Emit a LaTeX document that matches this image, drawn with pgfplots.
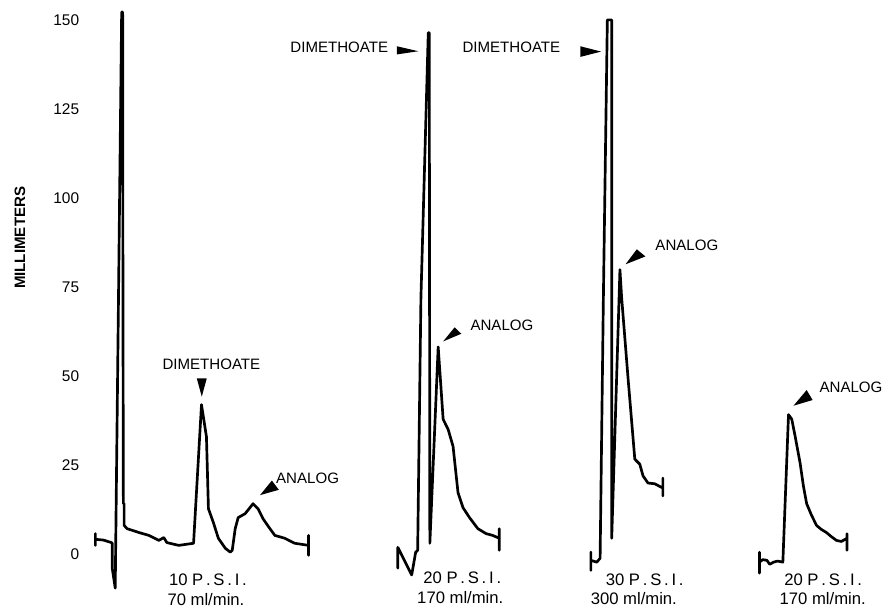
\documentclass[border=0pt]{standalone}
\usepackage{fontspec}
\setmainfont{Liberation Sans}
\usepackage{pgfplots}
\pgfplotsset{compat=1.18}

% Chromatogram traces: x is the chart-paper position, y is the pen deflection in millimeters.
\pgfplotsset{trace/.style={black, line width=1.35pt, line join=round, line cap=round, mark=none}}
\tikzset{cond/.style={font=\fontsize{8.4}{10}\selectfont}}
\begin{document}
\begin{tikzpicture}[font=\fontsize{7.6}{9}\selectfont]
\begin{axis}[
  scale only axis, width=444.5pt, height=306pt,
  xmin=0, xmax=889, ymin=-14.75, ymax=155.58,
  axis line style={draw=none},
  major tick length=0pt,
  xtick=\empty,
  ytick={0,25,50,75,100,125,150},
  /pgf/number format/assume math mode=true,
  yticklabel style={anchor=east, inner sep=0pt, xshift=40pt, font=\fontsize{7.8}{9}\selectfont},
  ylabel={MILLIMETERS},
  every axis y label/.style={at={(rel axis cs:0.0225,0.608)}, rotate=90, anchor=center,
    font=\fontsize{7.6}{9}\selectfont\bfseries},
  clip=false,
]
% keep the full drawing area as the picture's extent
\path (rel axis cs:0,0) rectangle (rel axis cs:1,1);

% 10 P.S.I., 70 ml/min
\addplot[trace] coordinates {
  (96,5.8) (96,2.5) (96,4.2) (104,4.0) (112,3.3) (113,3.1) (113,-3.9) (116,-9.5)
  (119.3,72) (122.5,152.2) (123.5,152.2) (123.8,72) (124.2,14.2) (125,14.2) (125,8.1)
  (128,7.2) (140,6.1) (150,5.3) (160,3.9) (165,4.7) (168,3.3) (180,2.5) (195,3.1)
  (203,42) (208,33) (210,12.8) (215,8.9) (220,4.5) (227,1.7) (232,0.6) (234,1.1)
  (237,7.2) (240,10.3) (247,11.4) (255,14.2) (260,12.8) (265,10.0) (272,7.2)
  (277,5.3) (287,4.5) (297,3.1) (311,2.5) (311,5.3) (311,-0.3)
};
% 20 P.S.I., 170 ml/min
\addplot[trace] coordinates {
  (401,-3.9) (401,1.95) (415,-5.8) (419,0.6) (421,1.1) (424.3,72) (431.7,146.4)
  (432.7,146.4) (433.3,3.1) (441.7,58.2) (446.7,37.9) (451.7,35.1) (456.7,30.3)
  (461.7,17.3) (466.7,13.1) (473.3,10.3) (481.7,7.2) (490,5.8) (496.7,5.3)
  (503.3,4.5) (503.3,7.2) (503.3,1.1)
};
% 30 P.S.I., 300 ml/min
\addplot[trace] coordinates {
  (595.7,0.6) (595.7,-4.5) (595.7,-1.7) (601.7,-2.2) (605,-1.1) (608.3,72)
  (612.3,150) (616.7,150) (616.7,4.5) (625,79.9) (626.7,72.1) (633.3,49)
  (640,26.7) (645,25.3) (648.3,22) (653.3,20) (660,19.8) (668.3,18.6)
  (668.3,21.4) (668.3,16.4)
};
% 20 P.S.I., 170 ml/min (analog only)
\addplot[trace] coordinates {
  (765.7,0.6) (765.7,-5.3) (765.7,-2.2) (769,-1.5) (773.3,-1.7) (776,-2.8)
  (780,-2.2) (784,-1.9) (789.3,-2.2) (795,39.2) (798.3,37.9) (801.7,33.1)
  (806.7,25.6) (810,19.2) (813.3,14.2) (818.3,10.9) (823.3,8.1) (828,7.0)
  (833.3,6.1) (838,5.0) (843.3,3.9) (848.3,3.6) (854,4.5) (854,5.8) (854,1.1)
};

% peak labels
\node at (axis cs:213,53.4) {DIMETHOATE};
\fill (axis cs:198.3,49.35) -- (axis cs:208.3,49.35) -- (axis cs:203.3,44.25) -- cycle;
\node at (axis cs:310,21.4) {ANALOG};
\fill (axis cs:274,20.7) -- (axis cs:281,18.1) -- (axis cs:262,16.6) -- cycle;

\node at (axis cs:342,142.2) {DIMETHOATE};
\fill (axis cs:400,142.6) -- (axis cs:400,140.3) -- (axis cs:421.7,141.2) -- cycle;
\node at (axis cs:506,64.3) {ANALOG};
\fill (axis cs:458.3,63.7) -- (axis cs:465,61.9) -- (axis cs:446.7,59.75) -- cycle;

\node at (axis cs:515.5,142.2) {DIMETHOATE};
\fill (axis cs:585,142.6) -- (axis cs:585,139.6) -- (axis cs:606,141.1) -- cycle;
\node at (axis cs:692.5,86.8) {ANALOG};
\fill (axis cs:642,85.6) -- (axis cs:650.7,83.6) -- (axis cs:630.7,81.4) -- cycle;

\node at (axis cs:858,47.0) {ANALOG};
\fill (axis cs:813.3,46.1) -- (axis cs:819.3,43.3) -- (axis cs:800,41.7) -- cycle;

% operating conditions under each trace
\node[cond] at (axis cs:209.5,-7.24) {10 P\,.\,S\,.\,I\,.};
\node[cond] at (axis cs:207.5,-12.8) {70 ml/min.};
\node[cond] at (axis cs:466,-6.68) {20 P\,.\,S\,.\,I\,.};
\node[cond] at (axis cs:464,-12.25) {170 ml/min.};
\node[cond] at (axis cs:650,-7.24) {30 P\,.\,S\,.\,I\,.};
\node[cond] at (axis cs:639,-12.5) {300 ml/min.};
\node[cond] at (axis cs:830,-7.24) {20 P\,.\,S\,.\,I\,.};
\node[cond] at (axis cs:829.5,-12.5) {170 ml/min.};
\end{axis}
\end{tikzpicture}
\end{document}
